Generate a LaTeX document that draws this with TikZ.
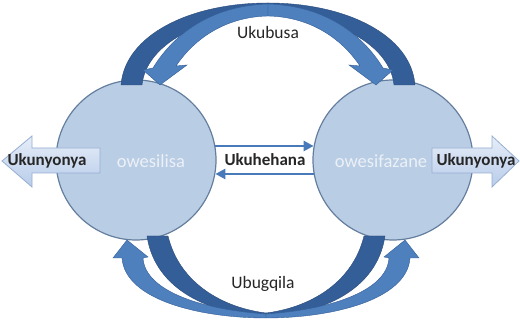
\documentclass[tikz,border=0pt]{standalone}
\usepackage{fontspec}
\setmainfont{Carlito}
\usetikzlibrary{arrows.meta}
\definecolor{circfill}{RGB}{185,205,229}
\definecolor{circline}{RGB}{100,126,158}
\definecolor{arcdark}{RGB}{52,94,152}
\definecolor{arclight}{RGB}{78,128,190}
\definecolor{suckfill}{RGB}{184,204,234}
\definecolor{suckline}{RGB}{150,174,210}
\definecolor{lbltext}{RGB}{236,240,247}
\definecolor{linkblue}{RGB}{72,122,186}

\begin{document}
\begin{tikzpicture}[x=1pt, y=1pt,
    circbox/.style={circle, draw=circline, line width=1.2pt, fill=circfill,
        minimum size=160pt, inner sep=0pt},
    inlbl/.style={text=lbltext, font=\fontsize{18.5}{22}\selectfont},
    boldlbl/.style={text=black!85, font=\fontsize{17}{20}\selectfont\bfseries},
    arclbl/.style={text=black!85, font=\fontsize{17.5}{21}\selectfont},
    ribtail/.style={fill=arcdark, draw=arcdark!80!black, line width=0.4pt},
    ribhead/.style={fill=arclight, draw=arcdark, line width=0.4pt},
    linkarr/.style={line width=2.5pt, linkblue, -{Triangle[length=10pt, width=10pt]}},
    sidearrow/.style={draw=suckline, line width=0.8pt, top color=suckfill!35!white,
        bottom color=suckfill}
]
    \useasboundingbox (0,0) rectangle (520,320);
    \fill[white] (0,0) rectangle (520,320);

    % the two partners
    \node[circbox] (male) at (136,160) {};
    \node[circbox] (female) at (393,160) {};

    % Ukubusa (top ribbons)
    \path[ribtail] (121,235) .. controls (125,285) and (190,317) .. (268,317)
        -- (268,305) .. controls (200,305) and (146,275) .. (142,235) -- cycle;
    \path[ribtail] (415,235) .. controls (411,285) and (346,317) .. (268,317)
        -- (268,305) .. controls (336,305) and (390,275) .. (394,235) -- cycle;
    \path[ribhead] (268,316) .. controls (205,314) and (170,280) .. (153,252)
        -- (143,250) -- (160,235) -- (187,255) -- (176,254)
        .. controls (192,278) and (222,303) .. (268,304) -- cycle;
    \path[ribhead] (268,316) .. controls (331,314) and (366,280) .. (383,252)
        -- (393,250) -- (376,235) -- (349,255) -- (360,254)
        .. controls (344,278) and (314,303) .. (268,304) -- cycle;

    % Ubugqila (bottom ribbons)
    \path[ribtail] (147,84) .. controls (155,30) and (210,6) .. (266,3)
        -- (266,7) .. controls (225,12) and (180,35) .. (168,84) -- cycle;
    \path[ribtail] (385,84) .. controls (377,30) and (322,6) .. (266,3)
        -- (266,7) .. controls (307,12) and (352,35) .. (364,84) -- cycle;
    \path[ribhead] (266,2) .. controls (200,2) and (125,20) .. (122,62)
        -- (113,62) -- (127,80) -- (148,63) -- (143,62)
        .. controls (145,28) and (205,10) .. (266,6) -- cycle;
    \path[ribhead] (266,2) .. controls (332,2) and (407,20) .. (410,62)
        -- (419,62) -- (405,80) -- (384,63) -- (389,62)
        .. controls (387,28) and (327,10) .. (266,6) -- cycle;

    % Ukunyonya block arrows
    \path[sidearrow] (2,159) -- (32,184) -- (32,172) -- (100,172) -- (100,147)
        -- (32,147) -- (32,133) -- cycle;
    \path[sidearrow] (519,159) -- (492,184) -- (492,172) -- (432,172) -- (432,147)
        -- (492,147) -- (492,133) -- cycle;

    % Ukuhehana
    \draw[linkarr] (male.10) -- (female.170);
    \draw[linkarr] (female.190) -- (male.350);

    % labels
    \node[inlbl] (lmale) at (151,159) {owesilisa};
    \node[inlbl] (lfemale) at (381,159) {owesifazane};
    \node[boldlbl] (lsuckL) at (47,159) {Ukunyonya};
    \node[boldlbl] (lsuckR) at (476,159) {Ukunyonya};
    \node[boldlbl] (llove) at (265,160) {Ukuhehana};
    \node[arclbl] (lrule) at (268,288) {Ukubusa};
    \node[arclbl] (lslave) at (263,36) {Ubugqila};
\end{tikzpicture}
\end{document}
